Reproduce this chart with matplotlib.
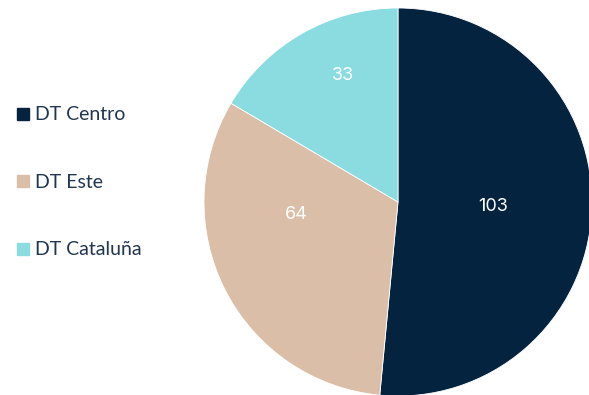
import math
import matplotlib.pyplot as plt
from matplotlib.lines import Line2D

labels = ["DT Centro", "DT Este", "DT Cataluña"]
values = [103, 64, 33]
colors = ["#03233f", "#dbbea7", "#8adce0"]
label_dist = [0.49, 0.53, 0.71]
label_turn = [0, -20, -6]  # degrees away from wedge middle

plt.rcParams['font.family'] = ['Lato', 'DejaVu Sans']

fig = plt.figure(figsize=(5.89, 3.95), dpi=100)
ax = fig.add_axes([204 / 589, -1 / 395, 388 / 589, 388 / 395])

wedges, texts, autotexts = ax.pie(values, colors=colors, startangle=90, counterclock=False,
                                  autopct=lambda p: "%d" % round(p * sum(values) / 100),
                                  pctdistance=0.5,
                                  wedgeprops=dict(edgecolor="white", linewidth=0.6))
for t, d, turn, w in zip(autotexts, label_dist, label_turn, wedges):
    mid = math.radians((w.theta1 + w.theta2) / 2 + turn)
    t.set_position((d * math.cos(mid), d * math.sin(mid)))
    t.set_color("white")
    t.set_fontsize(13)
    t.set_family(['Inter', 'DejaVu Sans'])
ax.set_aspect("equal")
ax.set_xlim(-1, 1)
ax.set_ylim(-1, 1)

handles = [Line2D([], [], marker="s", linestyle="none", markersize=9, color=c) for c in colors]
leg = fig.legend(handles, labels, loc="upper left", bbox_to_anchor=(0.0, 0.775),
                 frameon=False, fontsize=14, labelspacing=2.6, handlelength=0.6,
                 handletextpad=0.3)
for t in leg.get_texts():
    t.set_color("#1f3550")

fig.savefig("out.png", dpi=100)
